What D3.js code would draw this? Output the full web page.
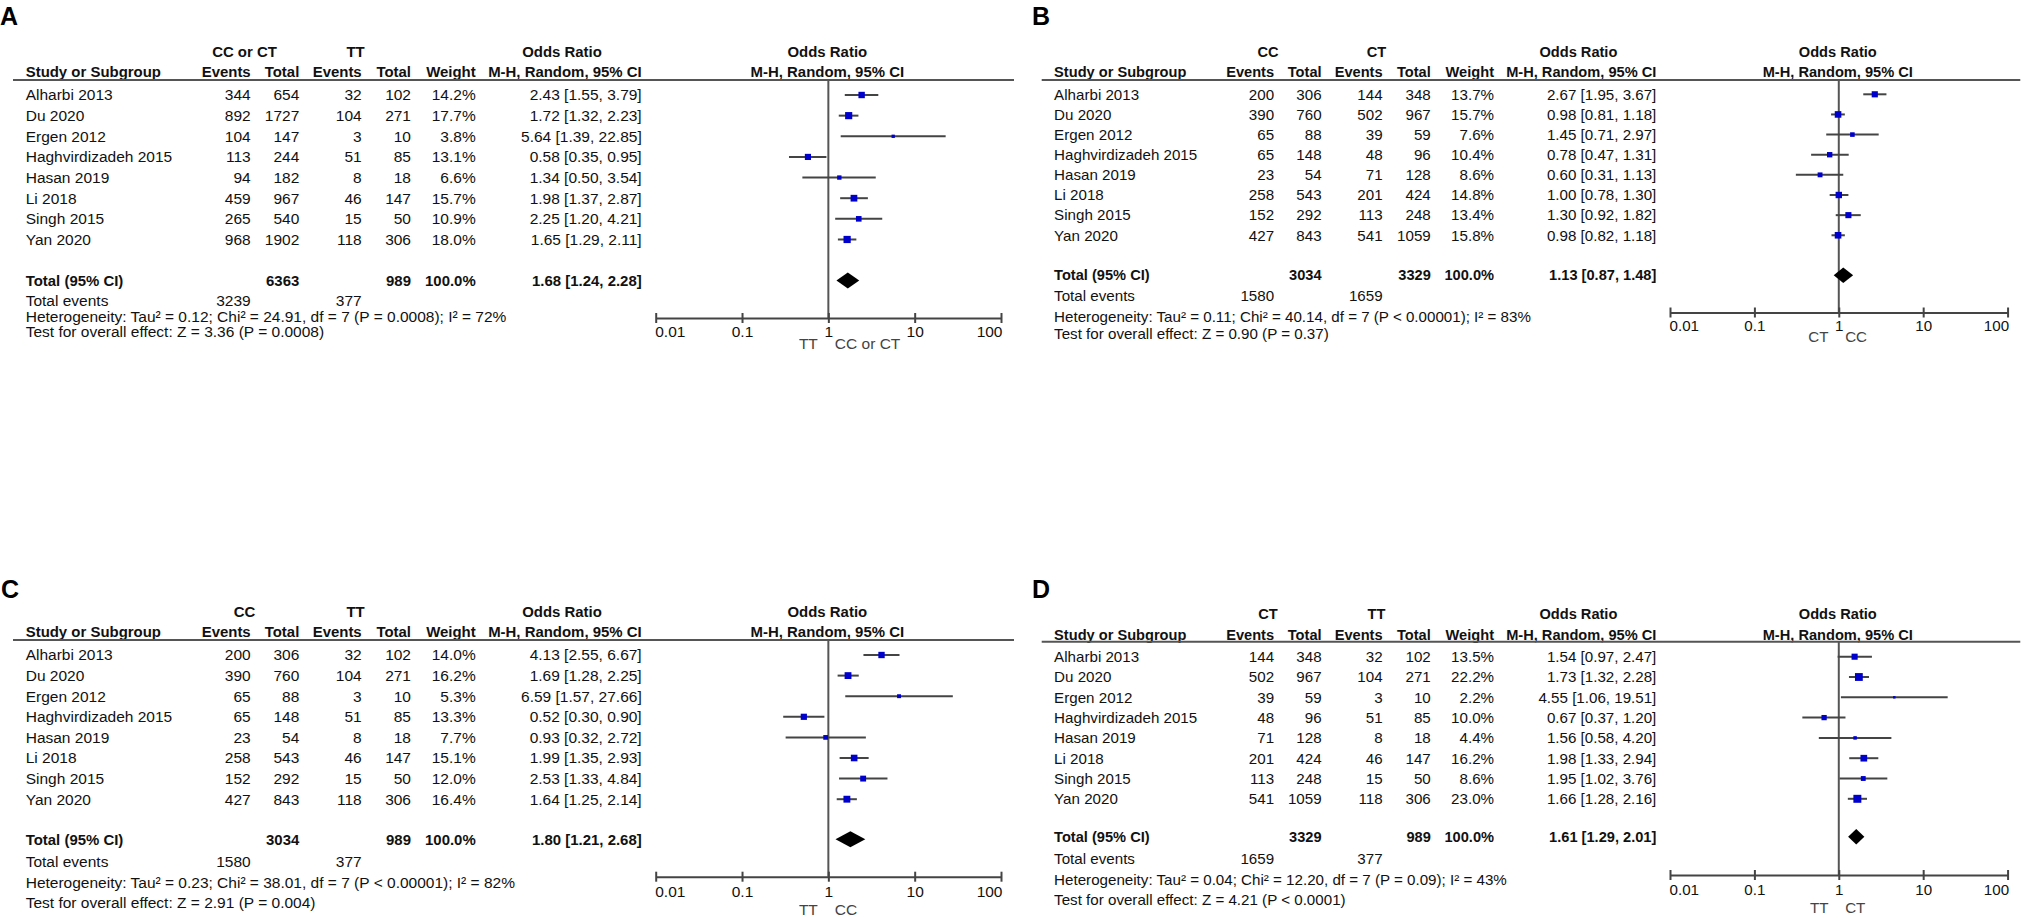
<!DOCTYPE html>
<html><head><meta charset="utf-8">
<script src="https://cdn.jsdelivr.net/npm/d3@7"></script>
<style>
body{margin:0;background:#fff;}
svg{display:block;}
text{font-family:"Liberation Sans",Arial,sans-serif;}
</style>
</head><body>
<svg id="chart" width="2021" height="918"></svg>
<script>
// ---------------- DATA ----------------
const studies = ["Alharbi 2013","Du 2020","Ergen 2012","Haghvirdizadeh 2015","Hasan 2019","Li 2018","Singh 2015","Yan 2020"];
const tickValues = [0.01, 0.1, 1, 10, 100];
const tickLabels = ["0.01","0.1","1","10","100"];

// Panel A: CC or CT vs TT
const aGroups = ["CC or CT","TT"];
const aEvents1 = [344,892,104,113,94,459,265,968];
const aTotal1  = [654,1727,147,244,182,967,540,1902];
const aEvents2 = [32,104,3,51,8,46,15,118];
const aTotal2  = [102,271,10,85,18,147,50,306];
const aWeight  = [14.2,17.7,3.8,13.1,6.6,15.7,10.9,18.0];
const aOR      = [2.43,1.72,5.64,0.58,1.34,1.98,2.25,1.65];
const aLow     = [1.55,1.32,1.39,0.35,0.50,1.37,1.20,1.29];
const aHigh    = [3.79,2.23,22.85,0.95,3.54,2.87,4.21,2.11];
const aTotals  = [6363, 989];
const aTotalEvents = [3239, 377];
const aPooled  = [1.68, 1.24, 2.28];
const aHet  = "Heterogeneity: Tau² = 0.12; Chi² = 24.91, df = 7 (P = 0.0008); I² = 72%";
const aTest = "Test for overall effect: Z = 3.36 (P = 0.0008)";
const aFavours = ["TT","CC or CT"];

// Panel B: CC vs CT
const bGroups = ["CC","CT"];
const bEvents1 = [200,390,65,65,23,258,152,427];
const bTotal1  = [306,760,88,148,54,543,292,843];
const bEvents2 = [144,502,39,48,71,201,113,541];
const bTotal2  = [348,967,59,96,128,424,248,1059];
const bWeight  = [13.7,15.7,7.6,10.4,8.6,14.8,13.4,15.8];
const bOR      = [2.67,0.98,1.45,0.78,0.60,1.00,1.30,0.98];
const bLow     = [1.95,0.81,0.71,0.47,0.31,0.78,0.92,0.82];
const bHigh    = [3.67,1.18,2.97,1.31,1.13,1.30,1.82,1.18];
const bTotals  = [3034, 3329];
const bTotalEvents = [1580, 1659];
const bPooled  = [1.13, 0.87, 1.48];
const bHet  = "Heterogeneity: Tau² = 0.11; Chi² = 40.14, df = 7 (P < 0.00001); I² = 83%";
const bTest = "Test for overall effect: Z = 0.90 (P = 0.37)";
const bFavours = ["CT","CC"];

// Panel C: CC vs TT
const cGroups = ["CC","TT"];
const cEvents1 = [200,390,65,65,23,258,152,427];
const cTotal1  = [306,760,88,148,54,543,292,843];
const cEvents2 = [32,104,3,51,8,46,15,118];
const cTotal2  = [102,271,10,85,18,147,50,306];
const cWeight  = [14.0,16.2,5.3,13.3,7.7,15.1,12.0,16.4];
const cOR      = [4.13,1.69,6.59,0.52,0.93,1.99,2.53,1.64];
const cLow     = [2.55,1.28,1.57,0.30,0.32,1.35,1.33,1.25];
const cHigh    = [6.67,2.25,27.66,0.90,2.72,2.93,4.84,2.14];
const cTotals  = [3034, 989];
const cTotalEvents = [1580, 377];
const cPooled  = [1.80, 1.21, 2.68];
const cHet  = "Heterogeneity: Tau² = 0.23; Chi² = 38.01, df = 7 (P < 0.00001); I² = 82%";
const cTest = "Test for overall effect: Z = 2.91 (P = 0.004)";
const cFavours = ["TT","CC"];

// Panel D: CT vs TT
const dGroups = ["CT","TT"];
const dEvents1 = [144,502,39,48,71,201,113,541];
const dTotal1  = [348,967,59,96,128,424,248,1059];
const dEvents2 = [32,104,3,51,8,46,15,118];
const dTotal2  = [102,271,10,85,18,147,50,306];
const dWeight  = [13.5,22.2,2.2,10.0,4.4,16.2,8.6,23.0];
const dOR      = [1.54,1.73,4.55,0.67,1.56,1.98,1.95,1.66];
const dLow     = [0.97,1.32,1.06,0.37,0.58,1.33,1.02,1.28];
const dHigh    = [2.47,2.28,19.51,1.20,4.20,2.94,3.76,2.16];
const dTotals  = [3329, 989];
const dTotalEvents = [1659, 377];
const dPooled  = [1.61, 1.29, 2.01];
const dHet  = "Heterogeneity: Tau² = 0.04; Chi² = 12.20, df = 7 (P = 0.09); I² = 43%";
const dTest = "Test for overall effect: Z = 4.21 (P < 0.0001)";
const dFavours = ["TT","CT"];

const panels = [
  {letter:"A", groups:aGroups, e1:aEvents1, n1:aTotal1, e2:aEvents2, n2:aTotal2, w:aWeight, or:aOR, lo:aLow, hi:aHigh, totals:aTotals, totEv:aTotalEvents, pooled:aPooled, het:aHet, test:aTest, fav:aFavours},
  {letter:"B", groups:bGroups, e1:bEvents1, n1:bTotal1, e2:bEvents2, n2:bTotal2, w:bWeight, or:bOR, lo:bLow, hi:bHigh, totals:bTotals, totEv:bTotalEvents, pooled:bPooled, het:bHet, test:bTest, fav:bFavours},
  {letter:"C", groups:cGroups, e1:cEvents1, n1:cTotal1, e2:cEvents2, n2:cTotal2, w:cWeight, or:cOR, lo:cLow, hi:cHigh, totals:cTotals, totEv:cTotalEvents, pooled:cPooled, het:cHet, test:cTest, fav:cFavours},
  {letter:"D", groups:dGroups, e1:dEvents1, n1:dTotal1, e2:dEvents2, n2:dTotal2, w:dWeight, or:dOR, lo:dLow, hi:dHigh, totals:dTotals, totEv:dTotalEvents, pooled:dPooled, het:dHet, test:dTest, fav:dFavours}
];

// ---------------- LAYOUT ----------------
// column positions in panel-A units
const col = {ruleL:13, ruleR:1014, label:25.7, ev1:250.7, tot1:299.3, ev2:361.7, tot2:411, wt:475.7, orR:641.7,
             g1:244.5, g2:355.5, orHead:562, plotL:655.7, plotR:1001};
const layouts = [
  {ox:13,    sx:1,      fs:15.5,  letterX:0,    letterY:25,  h1:51.7,  h2:71.7,  rule:80,    row0:95,    step:20.64, total:280.5, tev:301,   het:316.7, test:331.7, axis:318,   tick:332,   alab:343.5},
  {ox:1041.7,sx:0.9776, fs:15.15, letterX:1032, letterY:25,  h1:51.7,  h2:71.7,  rule:80,    row0:94.3,  step:20.14, total:275.3, tev:296,   het:316.7, test:334,   axis:312.5, tick:325.5, alab:337},
  {ox:13,    sx:1,      fs:15.5,  letterX:1,    letterY:598, h1:611.7, h2:631.7, rule:640,   row0:655,   step:20.6,  total:839.3, tev:861.7, het:882.7, test:902.7, axis:876.7, tick:891.5, alab:910},
  {ox:1041.7,sx:0.9776, fs:15.15, letterX:1032, letterY:597.5, h1:614.3, h2:635, rule:641.7, row0:656.7, step:20.3,  total:836.7, tev:859,   het:880,   test:900,   axis:875,   tick:890,   alab:908}
];

const svg = d3.select("#chart");
const TXT = "#111";
const LINE = "#555";

function drawPanel(p, L) {
  const X = u => L.ox + L.sx * (u - 13);
  const g = svg.append("g");
  const text = (x, y, s, anchor, bold, color) =>
    g.append("text").attr("x", x).attr("y", y).attr("dy", "0.35em")
      .attr("text-anchor", anchor || "start")
      .attr("font-size", bold ? L.fs * 0.965 : L.fs)
      .attr("font-weight", bold ? "bold" : "normal")
      .attr("fill", color || TXT).text(s);

  // panel letter
  g.append("text").attr("x", L.letterX).attr("y", L.letterY)
    .attr("font-size", 25).attr("font-weight", "bold").attr("fill", "#000").text(p.letter);

  // headers
  text(X(col.g1), L.h1, p.groups[0], "middle", true);
  text(X(col.g2), L.h1, p.groups[1], "middle", true);
  text(X(col.orHead), L.h1, "Odds Ratio", "middle", true);
  const xs = d3.scaleLog().domain([0.01, 100]).range([X(col.plotL), X(col.plotR)]);
  text(xs(1) - 1, L.h1, "Odds Ratio", "middle", true);
  text(X(col.label), L.h2, "Study or Subgroup", "start", true);
  text(X(col.ev1), L.h2, "Events", "end", true);
  text(X(col.tot1), L.h2, "Total", "end", true);
  text(X(col.ev2), L.h2, "Events", "end", true);
  text(X(col.tot2), L.h2, "Total", "end", true);
  text(X(col.wt), L.h2, "Weight", "end", true);
  text(X(col.orR), L.h2, "M-H, Random, 95% CI", "end", true);
  text(xs(1) - 1, L.h2, "M-H, Random, 95% CI", "middle", true);

  // header rule
  g.append("line").attr("x1", X(col.ruleL)).attr("x2", X(col.ruleR))
    .attr("y1", L.rule).attr("y2", L.rule).attr("stroke", LINE).attr("stroke-width", 2);

  const y = d3.scaleLinear().domain([0, 1]).range([L.row0, L.row0 + L.step]);
  const fmt2 = v => v.toFixed(2);
  const ciText = (o, l, h) => `${fmt2(o)} [${fmt2(l)}, ${fmt2(h)}]`;

  studies.forEach((s, i) => {
    const yy = y(i);
    text(X(col.label), yy, s, "start");
    text(X(col.ev1), yy, String(p.e1[i]), "end");
    text(X(col.tot1), yy, String(p.n1[i]), "end");
    text(X(col.ev2), yy, String(p.e2[i]), "end");
    text(X(col.tot2), yy, String(p.n2[i]), "end");
    text(X(col.wt), yy, p.w[i].toFixed(1) + "%", "end");
    text(X(col.orR), yy, ciText(p.or[i], p.lo[i], p.hi[i]), "end");
  });

  // totals
  text(X(col.label), L.total, "Total (95% CI)", "start", true);
  text(X(col.tot1), L.total, String(p.totals[0]), "end", true);
  text(X(col.tot2), L.total, String(p.totals[1]), "end", true);
  text(X(col.wt), L.total, "100.0%", "end", true);
  text(X(col.orR), L.total, ciText(p.pooled[0], p.pooled[1], p.pooled[2]), "end", true);
  text(X(col.label), L.tev, "Total events", "start");
  text(X(col.ev1), L.tev, String(p.totEv[0]), "end");
  text(X(col.ev2), L.tev, String(p.totEv[1]), "end");
  text(X(col.label), L.het, p.het, "start");
  text(X(col.label), L.test, p.test, "start");

  // reference line at OR = 1
  g.append("line").attr("x1", xs(1)).attr("x2", xs(1)).attr("y1", L.rule).attr("y2", L.axis)
    .attr("stroke", LINE).attr("stroke-width", 2);

  // CI lines and squares
  const size = d3.scaleSqrt().domain([0, 25]).range([0, 8.5 * L.sx]);
  studies.forEach((s, i) => {
    const yy = y(i);
    g.append("line").attr("x1", xs(p.lo[i])).attr("x2", xs(p.hi[i])).attr("y1", yy).attr("y2", yy)
      .attr("stroke", "#444").attr("stroke-width", 2);
    const sz = size(p.w[i]);
    g.append("rect").attr("x", xs(p.or[i]) - sz / 2).attr("y", yy - sz / 2)
      .attr("width", sz).attr("height", sz).attr("fill", "#0000cc");
  });

  // pooled diamond
  const dy = 8 * L.sx;
  const pts = [[xs(p.pooled[1]), L.total], [xs(p.pooled[0]), L.total - dy], [xs(p.pooled[2]), L.total], [xs(p.pooled[0]), L.total + dy]];
  g.append("path").attr("d", d3.line()(pts) + "Z").attr("fill", "#000");

  // axis
  const ax = g.append("g").attr("transform", `translate(0,${L.axis})`)
    .call(d3.axisBottom(xs).tickValues(tickValues).tickFormat((d, i) => tickLabels[i]).tickSizeInner(5).tickSizeOuter(0));
  ax.attr("font-family", null).attr("font-size", null);
  ax.select(".domain").attr("stroke", "#444").attr("stroke-width", 2);
  ax.selectAll(".tick line").attr("y1", -5).attr("y2", 5).attr("stroke", "#444").attr("stroke-width", 2);
  ax.selectAll(".tick text").attr("y", L.tick - L.axis).attr("dy", "0.35em")
    .attr("font-size", L.fs).attr("fill", TXT)
    .attr("text-anchor", (d, i) => i === 0 ? "start" : (i === tickValues.length - 1 ? "end" : "middle"))
    .attr("x", (d, i) => i === 0 ? -1 : (i === tickValues.length - 1 ? 1 : 0));

  // favours labels
  text(xs(1) - 10.5 * L.sx, L.alab, p.fav[0], "end", false, "#444");
  text(xs(1) + 6.5 * L.sx, L.alab, p.fav[1], "start", false, "#444");
}

panels.forEach((p, i) => drawPanel(p, layouts[i]));
</script>
</body></html>
